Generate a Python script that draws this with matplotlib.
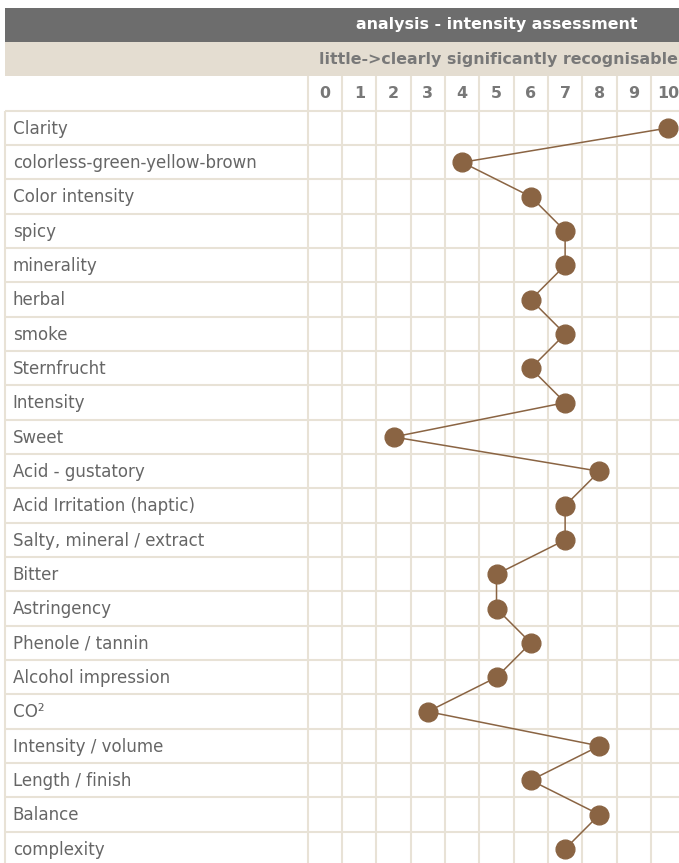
import numpy as np
import matplotlib.pyplot as plt
from matplotlib.patches import Rectangle
from matplotlib import font_manager

# table content
title = 'analysis - intensity assessment'
subtitle = 'little->clearly significantly recognisable'
scale = list(range(11))
criteria = ['Clarity', 'colorless-green-yellow-brown', 'Color intensity', 'spicy',
            'minerality', 'herbal', 'smoke', 'Sternfrucht', 'Intensity', 'Sweet',
            'Acid - gustatory', 'Acid Irritation (haptic)', 'Salty, mineral / extract',
            'Bitter', 'Astringency', 'Phenole / tannin', 'Alcohol impression', 'CO²',
            'Intensity / volume', 'Length / finish', 'Balance', 'complexity']
scores = [10, 4, 6, 7, 7, 6, 7, 6, 7, 2, 8, 7, 7, 5, 5, 6, 5, 3, 8, 6, 8, 7]

grid_col = '#e8e2d6'
brown = '#8a6443'
n = len(criteria)

# condensed DejaVu for the row labels if it is there
cond = [f for f in font_manager.findSystemFonts() if 'DejaVuSansCondensed.ttf' in f]
label_font = font_manager.FontProperties(fname=cond[0], size=13.3) if cond \
    else font_manager.FontProperties(family='DejaVu Sans', size=12)

fig = plt.figure(figsize=(6.79, 8.63), dpi=100)
ax = fig.add_axes([0, 0, 1, 1])
# one data unit = one table cell (~34.3 px)
ax.set_xlim(-9.475, 10.32)
ax.set_ylim(21.41, -3.728)
ax.axis('off')

left = -9.33
right = 10.6

# header bars
ax.add_patch(Rectangle((left, -3.5), right - left, 1, color='#6d6d6d', lw=0, zorder=0))
ax.add_patch(Rectangle((left, -2.5), right - left, 1, color='#e4ddd1', lw=0, zorder=0))
ax.text(5, -3, title, color='white', fontsize=11.4, fontweight='bold',
        family='DejaVu Sans', ha='center', va='center')
ax.text(5.05, -2, subtitle, color='#787878', fontsize=11.4, fontweight='bold',
        family='DejaVu Sans', ha='center', va='center')
for s in scale:
    ax.text(s, -1, str(s), color='#787878', fontsize=11.4, fontweight='bold',
            family='DejaVu Sans', ha='center', va='center')

# grid
bottom = n + 0.5
ax.hlines(np.arange(-0.5, n + 0.5), left, right, color=grid_col, lw=1.5, zorder=1)
ax.vlines([left], -0.5, bottom, color=grid_col, lw=1.5, zorder=1)
ax.vlines(np.arange(-0.5, 11.5), -1.5, bottom, color=grid_col, lw=1.5, zorder=1)

# row labels
for i, name in enumerate(criteria):
    ax.text(-9.1, i + 0.02, name, color='#666666', fontproperties=label_font,
            ha='left', va='center')

# profile line
rows = np.arange(n)
ax.plot(scores, rows, color=brown, lw=1.1, zorder=2, clip_on=False)
ax.plot(scores, rows, 'o', color=brown, ms=13.5, zorder=3, clip_on=False)

fig.savefig('out.png', dpi=100)
